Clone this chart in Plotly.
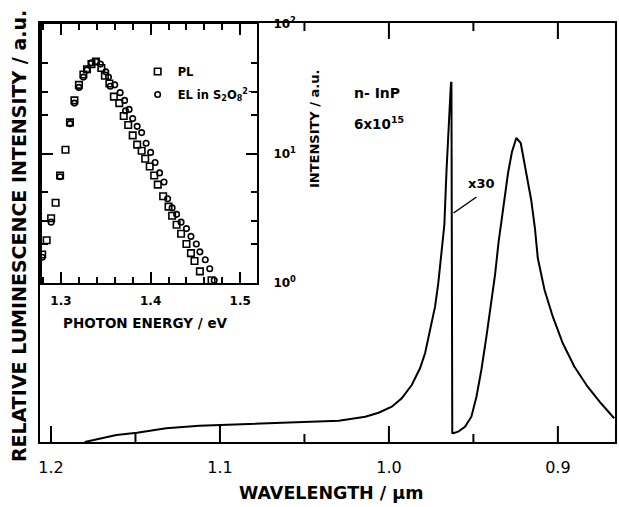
import plotly.graph_objects as go

# ---- main spectrum (wavelength in µm, relative intensity a.u.) ----
wavelength_um = [1.1800, 1.1711, 1.1613, 1.1491, 1.1318, 1.1122, 1.0991, 1.0827, 1.0690, 1.0493,
                 1.0297, 1.0140, 1.0061, 0.9983, 0.9924, 0.9865, 0.9816, 0.9786, 0.9757, 0.9727,
                 0.9708, 0.9688, 0.9672, 0.9659, 0.9645, 0.9633, 0.9630, 0.9625, 0.9619, 0.9590,
                 0.9550, 0.9512, 0.9482, 0.9453, 0.9423, 0.9394, 0.9372, 0.9351, 0.9319, 0.9295,
                 0.9272, 0.9246, 0.9220, 0.9197, 0.9158, 0.9136, 0.9119, 0.9079, 0.9030, 0.8971,
                 0.8902, 0.8824, 0.8745, 0.8667]
rel_intensity = [0.0, 0.88, 1.67, 2.22, 3.27, 3.89, 4.06, 4.30, 4.61, 4.70,
                 5.08, 6.04, 6.99, 8.42, 10.43, 13.60, 17.59, 21.17, 26.73, 32.29,
                 37.88, 45.82, 51.79, 64.92, 77.57, 85.68, 85.92, 2.15, 2.08, 2.46,
                 3.65, 6.04, 10.81, 17.18, 25.13, 33.10, 39.86, 47.73, 57.76, 64.20,
                 69.21, 72.55, 71.36, 66.59, 57.76, 51.07, 43.91, 36.28, 29.90, 23.56,
                 17.97, 13.20, 9.24, 5.66]

# ---- inset: PL (squares) ----
pl_energy_eV = [1.279, 1.284, 1.289, 1.294, 1.299, 1.305, 1.310, 1.315, 1.320, 1.325,
                1.329, 1.334, 1.339, 1.345, 1.349, 1.354, 1.359, 1.365, 1.370, 1.375,
                1.380, 1.385, 1.390, 1.394, 1.399, 1.404, 1.408, 1.414, 1.420, 1.424,
                1.429, 1.434, 1.440, 1.445, 1.449, 1.455, 1.468]
pl_intensity = [1.66, 2.14, 3.16, 4.17, 6.76, 10.7, 17.4, 25.7, 33.9, 40.7,
                44.7, 49.0, 51.3, 45.7, 39.8, 34.7, 27.5, 24.5, 19.5, 16.6,
                13.8, 11.7, 10.5, 9.12, 7.94, 6.76, 5.75, 4.68, 3.89, 3.31,
                2.82, 2.40, 2.00, 1.70, 1.48, 1.23, 1.05]

# ---- inset: EL in S2O8 2- (circles) ----
el_energy_eV = [1.279, 1.289, 1.299, 1.310, 1.315, 1.320, 1.325, 1.329, 1.334, 1.339,
                1.344, 1.350, 1.353, 1.355, 1.360, 1.366, 1.371, 1.372, 1.376, 1.380,
                1.385, 1.390, 1.395, 1.400, 1.405, 1.410, 1.415, 1.419, 1.424, 1.429,
                1.434, 1.440, 1.445, 1.451, 1.455, 1.461, 1.466, 1.471]
el_intensity = [1.58, 2.95, 6.61, 17.0, 24.5, 32.4, 38.9, 44.2, 50.1, 51.3,
                49.0, 42.7, 38.9, 33.1, 33.9, 29.5, 25.7, 21.4, 21.9, 18.6,
                16.2, 14.5, 12.0, 10.2, 8.51, 7.08, 6.03, 4.47, 3.80, 3.39,
                2.95, 2.63, 2.29, 2.00, 1.74, 1.51, 1.29, 1.05]

main_major_ticks = [1.2, 1.1, 1.0, 0.9]
main_minor_ticks = [1.15, 1.05, 0.95]
inset_y_ticks = [1, 10, 100]
inset_y_ticktext = ["10<sup>0</sup>", "10<sup>1</sup>", "10<sup>2</sup>"]
inset_y_minor = [2, 3, 5, 20, 30, 50]

FONT = "DejaVu Sans"
W, H = 619, 507
L, R, T, B = 40, 2, 23, 65
PW, PH = W - L - R, H - T - B
X_RANGE = [1.2065, 0.8662]
Y_RANGE = [0, 100]


def px(x):
    return (x - L) / PW


def py(y):
    return (H - B - y) / PH


fig = go.Figure()

fig.add_trace(go.Scatter(
    x=wavelength_um, y=rel_intensity, mode="lines",
    line=dict(color="black", width=2), showlegend=False,
    xaxis="x", yaxis="y"))

# inward tick marks of the wavelength axis (bottom and mirrored top), on the axis scale
span = Y_RANGE[1] - Y_RANGE[0]
tick_x, tick_y = [], []
for vals, length_px in ((main_major_ticks, 16), (main_minor_ticks, 8)):
    d = span * length_px / PH
    for v in vals:
        tick_x += [v, v, None, v, v, None]
        tick_y += [Y_RANGE[0], Y_RANGE[0] + d, None, Y_RANGE[1], Y_RANGE[1] - d, None]
fig.add_trace(go.Scatter(
    x=tick_x, y=tick_y, mode="lines", line=dict(color="black", width=2),
    showlegend=False, hoverinfo="skip", cliponaxis=False, xaxis="x", yaxis="y"))

fig.add_trace(go.Scatter(
    x=pl_energy_eV, y=pl_intensity, mode="markers", name="PL", legendgroup="pl",
    marker=dict(symbol="square-open", size=6.5, color="black", line=dict(width=1.6)),
    xaxis="x2", yaxis="y2"))

fig.add_trace(go.Scatter(
    x=el_energy_eV, y=el_intensity, mode="markers", legendgroup="el",
    name="EL in S<sub>2</sub>O<sub>8</sub><sup>2−</sup>",
    marker=dict(symbol="circle-open", size=5.5, color="black", line=dict(width=1.6)),
    xaxis="x2", yaxis="y2"))

fig.update_layout(
    width=W, height=H,
    margin=dict(l=L, r=R, t=T, b=B),
    paper_bgcolor="white", plot_bgcolor="white",
    font=dict(family=FONT, color="black"),
    xaxis=dict(
        range=X_RANGE, tickmode="array", tickvals=main_major_ticks, tickformat=".1f",
        ticks="", showline=True, linewidth=2, linecolor="black", mirror=True,
        showgrid=False, zeroline=False,
        tickfont=dict(size=16, family=FONT), ticklabelstandoff=10,
    ),
    yaxis=dict(
        range=Y_RANGE, showticklabels=False, ticks="",
        showline=True, linewidth=2, linecolor="black", mirror=True,
        showgrid=False, zeroline=False,
    ),
    xaxis2=dict(
        domain=[px(42), px(258)], anchor="y2",
        range=[1.2788, 1.519], tickmode="linear", tick0=1.3, dtick=0.1, tickformat=".1f",
        ticks="inside", ticklen=11, tickwidth=1.5, tickcolor="black",
        minor=dict(ticks="inside", ticklen=6, tickwidth=1.5, dtick=0.02, tick0=1.3, tickcolor="black"),
        showline=True, linewidth=1.5, linecolor="black", mirror="ticks",
        showgrid=False, zeroline=False,
        tickfont=dict(size=12, family=FONT, weight="bold"), ticklabelstandoff=6,
    ),
    yaxis2=dict(
        domain=[py(283), py(24)], anchor="x2", side="right",
        type="log", range=[0, 2],
        tickvals=inset_y_ticks, ticktext=inset_y_ticktext,
        ticks="inside", ticklen=11, tickwidth=1.5, tickcolor="black",
        minor=dict(ticks="inside", ticklen=6, tickwidth=1.5,
                   tickvals=inset_y_minor, tickcolor="black"),
        showline=True, linewidth=1.5, linecolor="black", mirror="ticks",
        showgrid=False, zeroline=False,
        tickfont=dict(size=12, family=FONT, weight="bold"), ticklabelstandoff=12,
    ),
    legend=dict(
        x=px(138), y=py(57), xanchor="left", yanchor="top",
        bgcolor="rgba(0,0,0,0)", borderwidth=0,
        font=dict(size=11.5, family=FONT, weight="bold"),
        itemwidth=30, tracegroupgap=4,
    ),
)

annotations = [
    dict(text="RELATIVE LUMINESCENCE INTENSITY / a.u.", x=px(19), y=py(236),
         textangle=-90, font=dict(size=19, weight="bold")),
    dict(text="WAVELENGTH / µm", x=px(332), y=py(493),
         font=dict(size=17.5, weight="bold")),
    dict(text="PHOTON ENERGY / eV", x=px(146), y=py(323),
         font=dict(size=13.5, weight="bold")),
    dict(text="INTENSITY / a.u.", x=px(315), y=py(129),
         textangle=-90, font=dict(size=13, weight="bold")),
    dict(text="n- InP", x=px(353), y=py(93), xanchor="left",
         font=dict(size=14, weight="bold")),
    dict(text="6x10<sup>15</sup>", x=px(353), y=py(123), xanchor="left",
         font=dict(size=13.5, weight="bold")),
    dict(text="x30", x=px(467), y=py(183), xanchor="left",
         font=dict(size=13, weight="bold")),
]
for a in annotations:
    a.update(xref="paper", yref="paper", showarrow=False)
    a.setdefault("xanchor", "center")
    a.setdefault("yanchor", "middle")
    a["font"].setdefault("family", FONT)
    a["font"].setdefault("color", "black")
fig.update_layout(annotations=annotations)

fig.add_shape(type="line", xref="paper", yref="paper",
              x0=px(455), y0=py(213), x1=px(478), y1=py(197),
              line=dict(color="black", width=1.5))

fig.write_html("out.html")
